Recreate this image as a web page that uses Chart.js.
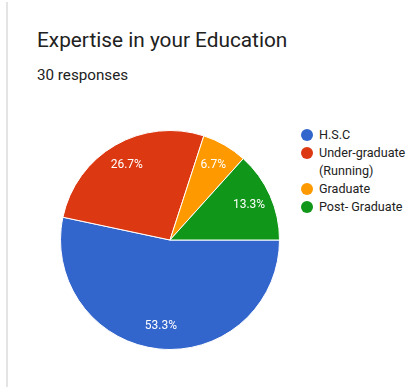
<!DOCTYPE html>
<html>
<head>
<meta charset="utf-8">
<title>Expertise in your Education</title>
<script src="https://cdn.jsdelivr.net/npm/chart.js@4.4.1/dist/chart.umd.min.js"></script>
<style>
    body {
        margin: 0;
        width: 407px;
        height: 387px;
        background: #fff;
        font-family: Roboto, "Noto Sans", sans-serif;
        position: relative;
        overflow: hidden;
    }
    .card {
        position: absolute;
        left: 6px;
        top: 2px;
        width: 430px;
        height: 400px;
        border-left: 2px solid #e4e4e4;
    }
    #title {
        position: absolute;
        left: 37px;
        top: 28px;
        font-size: 20.8px;
        color: #212121;
        white-space: nowrap;
    }
    #subtitle {
        position: absolute;
        left: 37px;
        top: 66px;
        font-size: 15.2px;
        color: #212121;
    }
    #chart-wrap {
        position: absolute;
        left: 60px;
        top: 130px;
        width: 220px;
        height: 220px;
    }
    #legend {
        position: absolute;
        left: 301px;
        top: 126px;
        width: 125px;
        list-style: none;
        margin: 0;
        padding: 0;
        font-size: 12.6px;
        color: #222;
    }
    #legend li {
        display: flex;
        align-items: flex-start;
        line-height: 18px;
    }
    #legend .dot {
        flex: none;
        width: 12px;
        height: 12px;
        border-radius: 50%;
        margin: 3px 6px 0 0;
    }
    #legend .word {
        white-space: nowrap;
    }
</style>
</head>
<body>
<div class="card"></div>
<div id="title">Expertise in your Education</div>
<div id="subtitle">30 responses</div>
<div id="chart-wrap"><canvas id="pieChart"></canvas></div>
<ul id="legend"></ul>

<script>
const categories = ["H.S.C", "Under-graduate (Running)", "Graduate", "Post- Graduate"];
const responses = [16, 8, 2, 4];
const sliceColors = ["#3366cc", "#dc3912", "#ff9900", "#109618"];

function renderLegend() {
    const legend = document.getElementById("legend");
    // only break lines at spaces, never at the hyphens
    legend.innerHTML = categories.map((name, i) =>
        `<li><span class="dot" style="background:${sliceColors[i]}"></span><span>${
            name.split(" ").map(w => `<span class="word">${w}</span>`).join(" ")
        }</span></li>`
    ).join("");
};

// percentage text inside each slice, like the Forms summary
const sliceLabels = {
    id: "sliceLabels",
    afterDatasetsDraw(chart) {
        const ctx = chart.ctx;
        const meta = chart.getDatasetMeta(0);
        const total = responses.reduce((a, b) => a + b, 0);

        ctx.save();
        ctx.font = "12px Roboto, sans-serif";
        ctx.fillStyle = "#ffffff";
        ctx.textAlign = "center";
        ctx.textBaseline = "middle";

        meta.data.forEach((arc, i) => {
            const p = arc.getProps(["x", "y", "startAngle", "endAngle", "outerRadius"], true);
            const mid = (p.startAngle + p.endAngle) / 2;
            const r = p.outerRadius * 0.79;
            const pct = (responses[i] / total * 100).toFixed(1) + "%";
            ctx.fillText(pct, p.x + Math.cos(mid) * r, p.y + Math.sin(mid) * r);
        });
        ctx.restore();
    }
};

function renderPie() {
    const ctx = document.getElementById("pieChart");

    new Chart(ctx, {
        type: "pie",
        data: {
            labels: categories,
            datasets: [{
                data: responses,
                backgroundColor: sliceColors,
                borderColor: "#ffffff",
                borderWidth: 1
            }]
        },
        options: {
            responsive: true,
            maintainAspectRatio: false,
            animation: false,
            rotation: 90,
            layout: { padding: 0 },
            plugins: {
                legend: { display: false },
                tooltip: { enabled: false }
            }
        },
        plugins: [sliceLabels]
    });
};

renderLegend();
renderPie();
</script>
</body>
</html>
